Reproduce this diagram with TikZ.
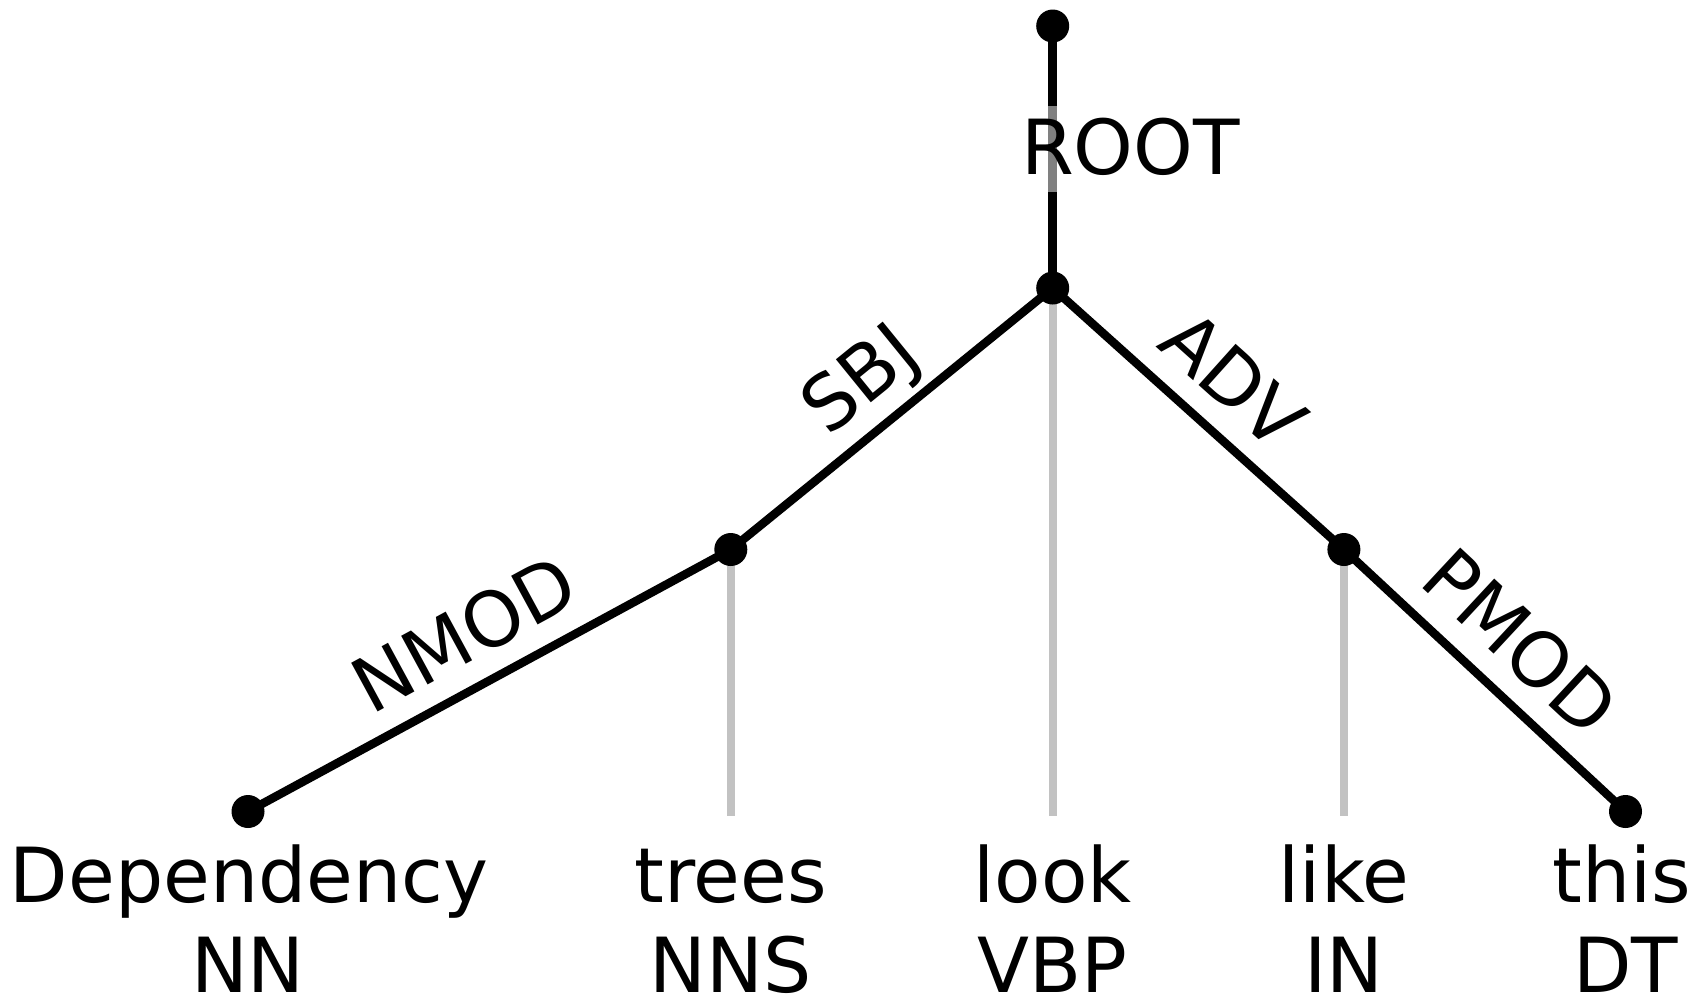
\documentclass[tikz,border=0pt]{standalone}
\usepackage{fontspec}
\setmainfont{DejaVu Sans}
\definecolor{projgray}{RGB}{194,194,194}
\begin{document}
\begin{tikzpicture}[x=1pt,y=-1pt,
  deplink/.style={line width=8.5pt, draw=black},
  projline/.style={line width=8pt, draw=projgray},
  tokdot/.style={circle, fill=black, inner sep=0pt, minimum size=33pt},
  lab/.style={font=\fontsize{76pt}{90pt}\selectfont, fill=white, fill opacity=0.5, text opacity=1, inner xsep=12pt, inner ysep=0pt, text height=68pt, text depth=18pt},
  word/.style={font=\fontsize{76pt}{90pt}\selectfont, anchor=base, inner sep=0pt}]
\useasboundingbox (0,0) rectangle (1697,994);
% positions
\coordinate (c-root) at (1052.7,26);
\coordinate (c-look) at (1052.7,288);
\coordinate (c-trees) at (730.8,549.5);
\coordinate (c-like) at (1343.9,549.5);
\coordinate (c-dep) at (248,811.5);
\coordinate (c-this) at (1625.5,811.5);
\coordinate (e-trees) at (730.8,816);
\coordinate (e-look) at (1052.7,816);
\coordinate (e-like) at (1343.9,816);
% projection lines
\draw[projline] (c-trees) -- (e-trees);
\draw[projline] (c-look) -- (e-look);
\draw[projline] (c-like) -- (e-like);
% dependency links with labels
\draw[deplink] (c-root) -- (c-look);
\node[lab, anchor=base] (l-root) at (1130.5,174) {ROOT};
\draw[deplink] (c-dep) -- node[lab, sloped, above=3pt] (l-nmod) {NMOD} (c-trees);
\draw[deplink] (c-trees) -- node[lab, sloped, above=3pt] (l-sbj) {SBJ} (c-look);
\draw[deplink] (c-look) -- node[lab, sloped, above=3pt] (l-adv) {ADV} (c-like);
\draw[deplink] (c-like) -- node[lab, sloped, above=3pt] (l-pmod) {PMOD} (c-this);
% dots
\node[tokdot] (d-root) at (c-root) {};
\node[tokdot] (d-look) at (c-look) {};
\node[tokdot] (d-trees) at (c-trees) {};
\node[tokdot] (d-like) at (c-like) {};
\node[tokdot] (d-dep) at (c-dep) {};
\node[tokdot] (d-this) at (c-this) {};
% words and tags
\node[word] (w-dep) at (249,902) {Dependency};
\node[word] (t-dep) at (248,992) {NN};
\node[word] (w-trees) at (730.8,902) {trees};
\node[word] (t-trees) at (730.8,992) {NNS};
\node[word] (w-look) at (1052.7,902) {look};
\node[word] (t-look) at (1052.7,992) {VBP};
\node[word] (w-like) at (1343.9,902) {like};
\node[word] (t-like) at (1343.9,992) {IN};
\node[word] (w-this) at (1622,902) {this};
\node[word] (t-this) at (1625.5,992) {DT};
\end{tikzpicture}
\end{document}
